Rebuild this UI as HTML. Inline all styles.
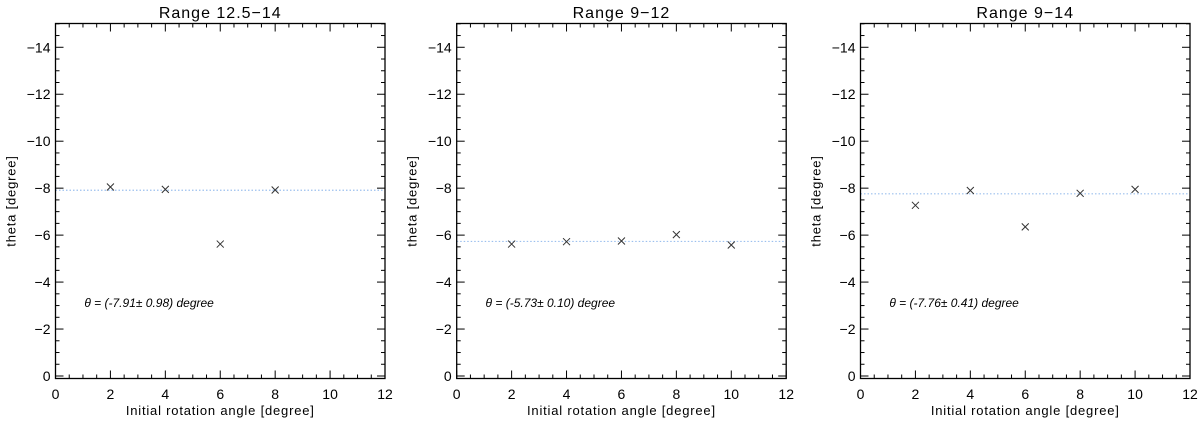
<!DOCTYPE html>
<html><head><meta charset="utf-8"><style>
html,body{margin:0;padding:0;background:#fff;}
svg{display:block;font-family:"Liberation Sans",sans-serif;}
</style></head><body>
<svg id="chart" width="1200" height="423"></svg>
<script>
const titles = ["Range 12.5\u221214", "Range 9\u221212", "Range 9\u221214"];
const xs1 = [2, 4, 6, 8];
const ys1 = [-8.05, -7.95, -5.62, -7.92];
const xs2 = [2, 4, 6, 8, 10];
const ys2 = [-5.62, -5.72, -5.75, -6.02, -5.58];
const xs3 = [2, 4, 6, 8, 10];
const ys3 = [-7.27, -7.9, -6.35, -7.78, -7.95];
const means = [-7.91, -5.73, -7.76];
const notes = ["\u03b8 = (-7.91\u00b1 0.98) degree", "\u03b8 = (-5.73\u00b1 0.10) degree", "\u03b8 = (-7.76\u00b1 0.41) degree"];
const xTicks = [0, 2, 4, 6, 8, 10, 12];
const yTicks = [0, -2, -4, -6, -8, -10, -12, -14];

const NS = "http://www.w3.org/2000/svg";
const svg = document.getElementById('chart');
function mk(tag, attrs, parent){const e=document.createElementNS(NS,tag);for(const k in attrs)e.setAttribute(k,attrs[k]);(parent||svg).appendChild(e);return e;}
const lefts = [55.5, 456.7, 860.5];
const W = 329.5, TOP = 23.5, BOT = 378.5;
const series = [[xs1, ys1], [xs2, ys2], [xs3, ys3]];
for (let p = 0; p < 3; p++) {
  const L = lefts[p], R = L + W;
  const xS = v => L + v / 12 * W;
  const yS = v => 376 + v * 23.48;
  const g = mk('g', {});
  
  
  const ml = mk('line', {x1: L, x2: R, y1: yS(means[p]), y2: yS(means[p]), stroke: '#9cc0ee', 'stroke-width': 1.2, 'stroke-dasharray': '1.5,2'}, g);
  
  
  for (let v = 0; v <= 12.001; v += 0.5) {
    const maj = Math.abs(v % 2) < 1e-6, len = maj ? 8 : 4, x = xS(v);
    mk('line', {x1: x, x2: x, y1: BOT, y2: BOT - len, stroke: '#000'}, g);
    mk('line', {x1: x, x2: x, y1: TOP, y2: TOP + len, stroke: '#000'}, g);
  }
  for (let v = 0; v >= -15.001; v -= 0.5) {
    const maj = Math.abs(v % 2) < 1e-6, len = maj ? 8 : 4, y = yS(v);
    mk('line', {x1: L, x2: L + len, y1: y, y2: y, stroke: '#000'}, g);
    mk('line', {x1: R, x2: R - len, y1: y, y2: y, stroke: '#000'}, g);
  }
  const box = mk('rect', {x: L, y: TOP, width: W, height: BOT - TOP, fill: 'none', stroke: '#000', 'stroke-width': 1.3}, g);
  
  
  xTicks.forEach(v => {
    const t = mk('text', {x: xS(v), y: 399, 'text-anchor': 'middle', 'font-size': 14}, g);
    t.textContent = v;
    
    
  });
  yTicks.forEach(v => {
    const t = mk('text', {x: L - 5, y: yS(v) + 5, 'text-anchor': 'end', 'font-size': 14}, g);
    t.textContent = v === 0 ? '0' : '\u2212' + (-v);
    
    
  });
  const xt = mk('text', {x: L + W / 2, y: 415, 'text-anchor': 'middle', 'font-size': 13, 'letter-spacing': '0.8'}, g);
  xt.textContent = 'Initial rotation angle [degree]';
  
  
  const yt = mk('text', {x: 0, y: 0, 'text-anchor': 'middle', 'font-size': 13, 'letter-spacing': '0.8', transform: `translate(${L - 40},${(TOP + BOT) / 2}) rotate(-90)`}, g);
  yt.textContent = 'theta [degree]';
  
  
  const tt = mk('text', {x: L + W / 2, y: 18, 'text-anchor': 'middle', 'font-size': 16, 'letter-spacing': '1'}, g);
  tt.textContent = titles[p];
  
  
  const nt = mk('text', {x: xS(1.05), y: yS(-3.1) + 4, 'font-size': 12, 'font-style': 'italic'}, g);
  nt.textContent = notes[p];
  
  
  const [xv, yv] = series[p];
  xv.forEach((v, i) => {
    const cx = xS(v), cy = yS(yv[i]), s = 3.5;
    const m = mk('path', {d: `M${cx - s},${cy - s}L${cx + s},${cy + s}M${cx - s},${cy + s}L${cx + s},${cy - s}`, stroke: '#333', 'stroke-width': 1, fill: 'none'}, g);
    
    
  });
}
</script>
</body></html>
